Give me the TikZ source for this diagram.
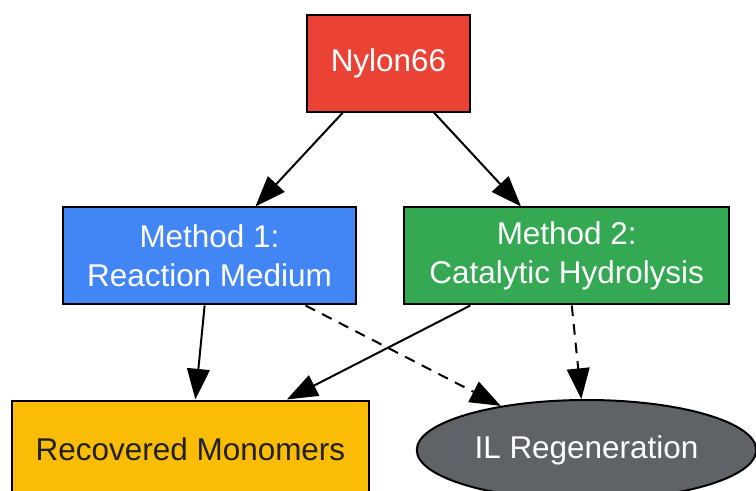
\documentclass[tikz,border=0pt]{standalone}
\usepackage{fontspec}
\setmainfont{Liberation Sans}
\usetikzlibrary{arrows.meta,shapes.geometric}

\definecolor{nylonred}{HTML}{EA4335}
\definecolor{methblue}{HTML}{4285F4}
\definecolor{methgreen}{HTML}{34A853}
\definecolor{monoyellow}{HTML}{FBBC05}
\definecolor{regengrey}{HTML}{5F6368}
\definecolor{darktext}{HTML}{202124}

\tikzset{every picture/.style={line width=1.5pt}}
\tikzset{
  procbox/.style={draw=black, rectangle, inner sep=0pt, align=center,
    font=\fontsize{23.6}{28.9}\selectfont},
  procoval/.style={draw=black, ellipse, inner sep=0pt, align=center,
    font=\fontsize{23.6}{28.9}\selectfont},
  flow/.style={-{Triangle[length=23pt,width=17pt]}},
  recycle/.style={flow, dash pattern=on 8pt off 6pt}
}

\begin{document}
\begin{tikzpicture}[x=0.75pt,y=0.75pt,yscale=-1,xscale=1]
\useasboundingbox (0,0) rectangle (756,491);

% Source node
\node [procbox, fill=nylonred, text=white, minimum width=122.25pt, minimum height=72.4pt] (nylon) at (388.5,63.5) {Nylon66};
% Method nodes
\node [procbox, fill=methblue, text=white, minimum width=219.75pt, minimum height=72.75pt] (methone) at (209.5,256) {Method 1:\\Reaction Medium};
\node [procbox, fill=methgreen, text=white, minimum width=244.1pt, minimum height=72.75pt] (methtwo) at (566.75,256) {Method 2:\\Catalytic Hydrolysis};
% Products
\node [procbox, fill=monoyellow, text=darktext, minimum width=267.75pt, minimum height=72.75pt] (monomers) at (190.5,449) {Recovered Monomers};
\node [procoval, fill=regengrey, text=white, minimum width=254.6pt, minimum height=75pt] (ilregen) at (586.5,450) {IL Regeneration};

% Edges
\draw [flow] (nylon) -- (methone);
\draw [flow] (nylon) -- (methtwo);
\draw [flow] (methone) -- (monomers);
\draw [recycle] (methone) -- (ilregen);
\draw [flow] (methtwo) -- (monomers);
\draw [recycle] (methtwo) -- (ilregen);
\end{tikzpicture}
\end{document}
